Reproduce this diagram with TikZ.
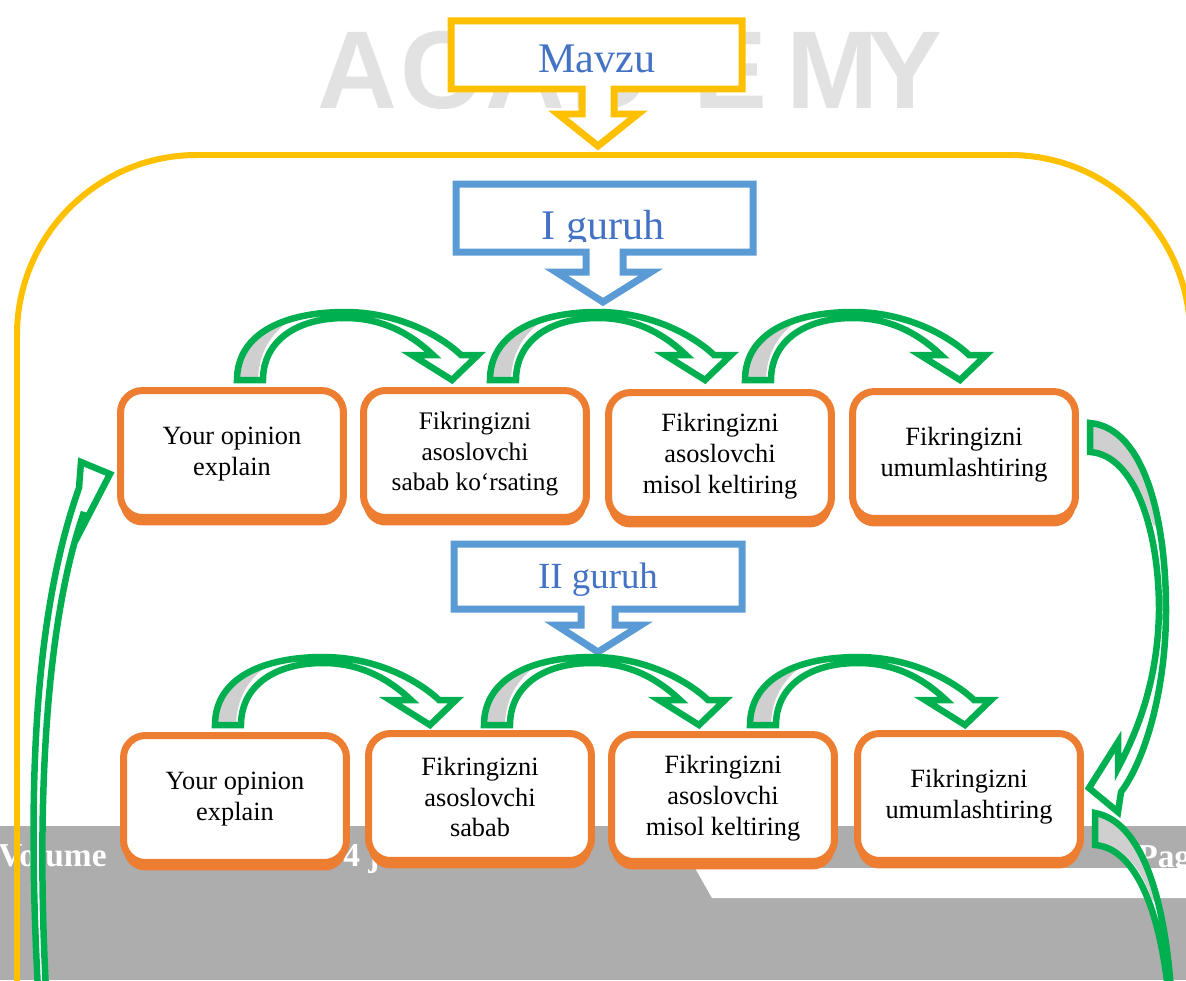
\documentclass[tikz,border=0pt]{standalone}
\usepackage{fontspec}
\setmainfont{Liberation Serif}
\newfontfamily\markfont{Liberation Sans}
\usetikzlibrary{positioning,calc,shadows}

\definecolor{frameyellow}{HTML}{FFC000}
\definecolor{calloutblue}{HTML}{5B9BD5}
\definecolor{textblue}{HTML}{4472C4}
\definecolor{boxorange}{HTML}{ED7D31}
\definecolor{arcgreen}{HTML}{00B050}
\definecolor{arcgrey}{HTML}{CFCFCF}
\definecolor{bandgrey}{HTML}{ADADAD}
\definecolor{markgrey}{HTML}{E2E2E2}

\begin{document}
\begin{tikzpicture}[x=0.02cm, y=-0.02cm]

        % One unit is one pixel of the page, y runs downwards
        \tikzset{
            stepbox/.style={draw=boxorange, line width=0.14cm, fill=white,
                rounded corners=0.44cm, minimum width=4.46cm, minimum height=2.54cm,
                align=center, inner sep=0pt, font=\fontsize{15}{17.6}\selectfont,
                general shadow={fill=boxorange, shadow yshift=-0.16cm}},
            callout/.style={line width=0.14cm, fill=white, line join=miter},
            title/.style={anchor=base, text=textblue, inner sep=0pt},
            arcline/.style={draw=arcgreen, line width=0.13cm, line join=miter},
            bandtext/.style={anchor=base west, text=white, inner sep=0pt,
                font=\bfseries\fontsize{19}{19}\selectfont},
        }

        % Outline of one small green arc, tail at the origin
        \def\arcband{(0,0) .. controls (0,-48) and (50,-68) .. (108,-68)
            .. controls (160,-68) and (203,-45) .. (224,-25)
            -- (241,-25) -- (215,0) -- (175,-25) -- (196,-25)
            .. controls (178,-42) and (150,-62) .. (108,-62)
            .. controls (58,-62) and (26,-38) .. (26,0) -- cycle}
        \tikzset{
            greenarc/.pic={
                \fill[white] \arcband;
                \begin{scope}
                    \clip \arcband;
                    \fill[arcgrey] (-10,2) -- (21,2) .. controls (21,-30) and (36,-50) .. (62,-66)
                        -- (40,-90) -- (-10,-60) -- cycle;
                \end{scope}
                \draw[arcline] \arcband;
            },
        }

        \useasboundingbox (0,0) rectangle (1186,980);
        \clip (0,0) rectangle (1186,980);

        % Page background: watermark and footer band
        \foreach \ch/\xx in {A/357, C/440, A/525, D/610, E/730, M/833, Y/905}
            \node[text=markgrey, font=\markfont\bfseries\fontsize{63}{63}\selectfont]
                (mark\xx) at (\xx,70) {\ch};
        \fill[bandgrey] (0,826) rectangle (1186,980);
        \fill[white] (695,868) -- (1186,868) -- (1186,898) -- (712,898) -- cycle;
        \node[bandtext] (vol) at (-2,866) {Volume};
        \node[bandtext] (issue) at (343,866) {4 j};
        \node[bandtext] (page) at (1137,867) {Pag};

        % Big frame
        \draw[frameyellow, line width=0.12cm, rounded corners=3.6cm]
            (17,1000) -- (17,155) -- (1190,155) -- (1190,1000);

        % Callouts
        \draw[callout, draw=frameyellow] (451,21) -- (742,21) -- (742,89) -- (614,89)
            -- (614,114) -- (638,114) -- (598,146) -- (558,114) -- (582,114)
            -- (582,89) -- (451,89) -- cycle;
        \node[title, font=\fontsize{24}{24}\selectfont] (mavzu) at (597,72) {Mavzu};

        \draw[callout, draw=calloutblue] (456,184) -- (753,184) -- (753,252) -- (623,252)
            -- (623,272) -- (651,272) -- (603,302) -- (556,272) -- (586,272)
            -- (586,252) -- (456,252) -- cycle;
        \begin{scope}
            \clip (460,188) rectangle (749,241);
            \node[title, font=\fontsize{24}{24}\selectfont] (group1) at (603,239) {I guruh};
        \end{scope}

        \draw[callout, draw=calloutblue] (454,544) -- (742,544) -- (742,609) -- (615,609)
            -- (615,625) -- (641,625) -- (598,652) -- (556,625) -- (581,625)
            -- (581,609) -- (454,609) -- cycle;
        \node[title, font=\fontsize{21}{21}\selectfont] (group2) at (598,588) {II guruh};

        % First row of boxes
        \node[stepbox] (b11) at (232,454) {Your opinion\\explain};
        \node[stepbox, font=\fontsize{14.4}{17.6}\selectfont] (b12) at (475,454)
            {Fikringizni\\asoslovchi\\sabab ko‘rsating};
        \node[stepbox] (b13) at (720,456) {Fikringizni\\asoslovchi\\misol keltiring};
        \node[stepbox] (b14) at (964,455) {Fikringizni\\umumlashtiring};

        % Second row of boxes
        \node[stepbox] (b21) at (235,799) {Your opinion\\explain};
        \node[stepbox] (b22) at (480,797) {Fikringizni\\asoslovchi\\sabab};
        \node[stepbox] (b23) at (723,798) {Fikringizni\\asoslovchi\\misol keltiring};
        \node[stepbox] (b24) at (969,797) {Fikringizni\\umumlashtiring};

        % Small green arcs over the rows
        \foreach \xx in {237, 490, 745}
            \pic at (\xx,380) {greenarc};
        \foreach \xx in {215, 484, 750}
            \pic at (\xx,725) {greenarc};

        % Right arc from the first row down to the second
        \def\rightband{(1090,423) .. controls (1145,428) and (1166,520) .. (1166,610)
            .. controls (1166,690) and (1145,760) .. (1121,792)
            -- (1118,812) -- (1089,788) -- (1118,742) -- (1118,768)
            .. controls (1138,730) and (1158,680) .. (1159,610)
            .. controls (1159,530) and (1135,455) .. (1090,452) -- cycle}
        \fill[white] \rightband;
        \begin{scope}
            \clip \rightband;
            \fill[arcgrey] (1080,410) -- (1185,410) -- (1185,540) -- (1153,525)
                .. controls (1140,480) and (1120,451) .. (1085,449) -- cycle;
        \end{scope}
        \draw[arcline] \rightband;

        % Arc leaving the second row at the bottom right
        \def\lowband{(1095,813) .. controls (1135,820) and (1163,880) .. (1171,990)
            -- (1168,990) .. controls (1158,900) and (1132,848) .. (1095,845) -- cycle}
        \fill[white] \lowband;
        \begin{scope}
            \clip \lowband;
            \fill[arcgrey] (1085,805) -- (1185,805) -- (1185,920) -- (1152,900)
                .. controls (1140,865) and (1120,842) .. (1090,842) -- cycle;
        \end{scope}
        \draw[arcline] \lowband;

        % Left arc coming up to the first row
        \draw[arcline, fill=white] (38,990) .. controls (28,800) and (32,620) .. (79,488)
            -- (81,462) -- (110,474) -- (80,532) -- (84,512)
            .. controls (46,620) and (36,800) .. (46,990) -- cycle;

\end{tikzpicture}
\end{document}
